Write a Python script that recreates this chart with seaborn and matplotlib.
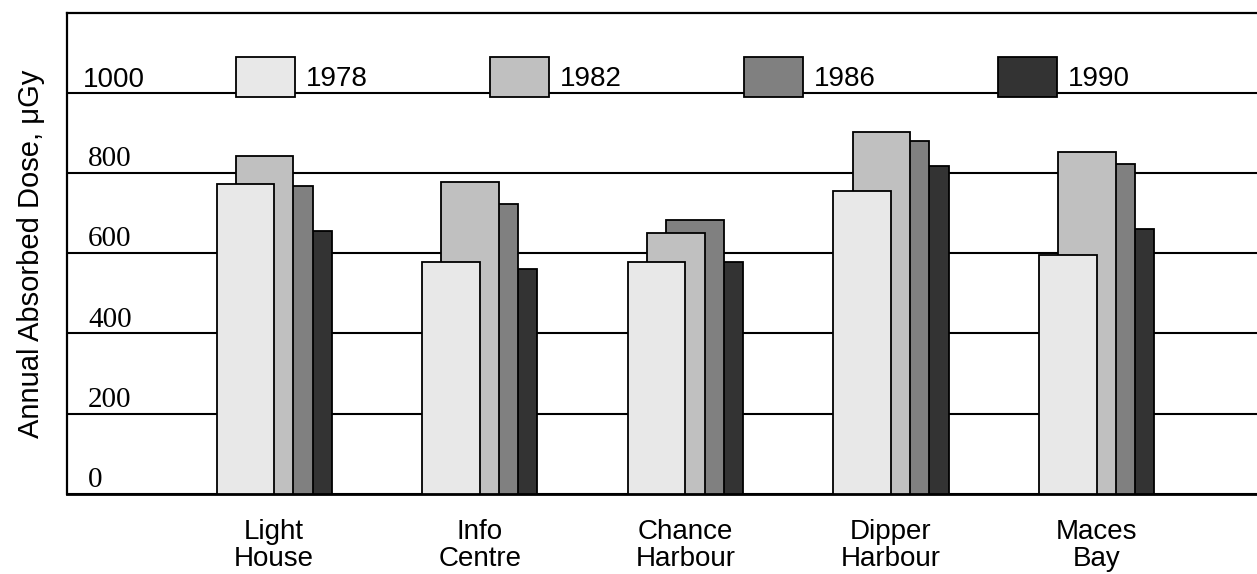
import numpy as np
import pandas as pd
import matplotlib
matplotlib.use("Agg")
import matplotlib.pyplot as plt
from matplotlib.patches import Patch
import matplotlib.transforms as mtransforms
import seaborn as sns

# ---- data ----
sites = ["Light\nHouse", "Info\nCentre", "Chance\nHarbour", "Dipper\nHarbour", "Maces\nBay"]
years = ["1978", "1982", "1986", "1990"]
dose_1978 = [772, 578, 578, 756, 597]
dose_1982 = [842, 778, 650, 902, 853]
dose_1986 = [769, 722, 684, 881, 824]
dose_1990 = [656, 561, 578, 817, 661]
ytick_values = [0, 200, 400, 600, 800, 1000]
ytick_labels = ["0", "200", "400", "600", "800", "1000"]

series = [dose_1978, dose_1982, dose_1986, dose_1990]
colors = ["#e8e8e8", "#c0c0c0", "#808080", "#333333"]
offsets = [-0.1404, -0.0468, 0.0468, 0.1404]
bar_width = 0.28

sns.set_theme(style="white")
plt.rcParams["font.family"] = ["Liberation Sans", "DejaVu Sans"]
plt.rcParams["text.color"] = "black"
plt.rcParams["axes.labelcolor"] = "black"
plt.rcParams["xtick.color"] = "black"
plt.rcParams["ytick.color"] = "black"

fig = plt.figure(figsize=(12.57, 5.74), dpi=100)
ax = fig.add_axes([67 / 1257, 80.3 / 574, 1190 / 1257, 480.7 / 574])

base = np.arange(len(sites))
# draw back-to-front so 1978 sits in front
for i in reversed(range(len(years))):
    df = pd.DataFrame({"x": base + offsets[i], "y": series[i]})
    sns.barplot(data=df, x="x", y="y", native_scale=True, width=bar_width,
                color=colors[i], saturation=1, edgecolor="black",
                linewidth=1.3, errorbar=None, ax=ax, zorder=3 + (3 - i))

ax.set_xlim(-1.008, 4.78)
ax.set_ylim(0, 1200)
ax.set_xticks(base)
ax.set_xticklabels(sites, fontsize=20, linespacing=1.07, color="black")
ax.tick_params(axis="x", length=0, pad=18)
ax.set_yticks(ytick_values)
ax.set_yticklabels([])
ax.tick_params(axis="y", length=0)
ax.set_xlabel("")
ax.set_ylabel("Annual Absorbed Dose, μGy", fontsize=21, labelpad=12.5,
              color="black")

ax.set_axisbelow(True)
ax.yaxis.grid(True, color="black", linewidth=1.5)
ax.xaxis.grid(False)
for s in ["left", "top", "bottom"]:
    ax.spines[s].set_visible(True)
    ax.spines[s].set_color("black")
    ax.spines[s].set_linewidth(1.6)
ax.spines["bottom"].set_linewidth(2.0)
ax.spines["right"].set_visible(False)

# in-plot y labels
trans = mtransforms.blended_transform_factory(ax.transAxes, ax.transData)
for v, lab in zip(ytick_values, ytick_labels):
    if lab == "1000":
        ax.annotate(lab, xy=(16 / 1190, v), xycoords=trans, xytext=(0, 4.5),
                    textcoords="offset points", ha="left", va="baseline",
                    fontsize=20, family=["Liberation Sans"], color="black")
    else:
        ax.annotate(lab, xy=(21 / 1190, v), xycoords=trans, xytext=(0, 5),
                    textcoords="offset points", ha="left", va="baseline",
                    fontsize=21, family=["Liberation Serif"], color="black")

# legend
handles = [Patch(facecolor=c, edgecolor="black", linewidth=1.3) for c in colors]
leg = fig.legend(handles, years, loc="upper left",
                 bbox_to_anchor=(235.7 / 1257, 1 - 57 / 574),
                 bbox_transform=fig.transFigure, ncol=4, frameon=False,
                 fontsize=20, handlelength=2.14, handleheight=1.84,
                 handletextpad=0.38, columnspacing=4.4,
                 borderpad=0, borderaxespad=0)
for t in leg.get_texts():
    t.set_color("black")

fig.savefig("out.png", dpi=100)
